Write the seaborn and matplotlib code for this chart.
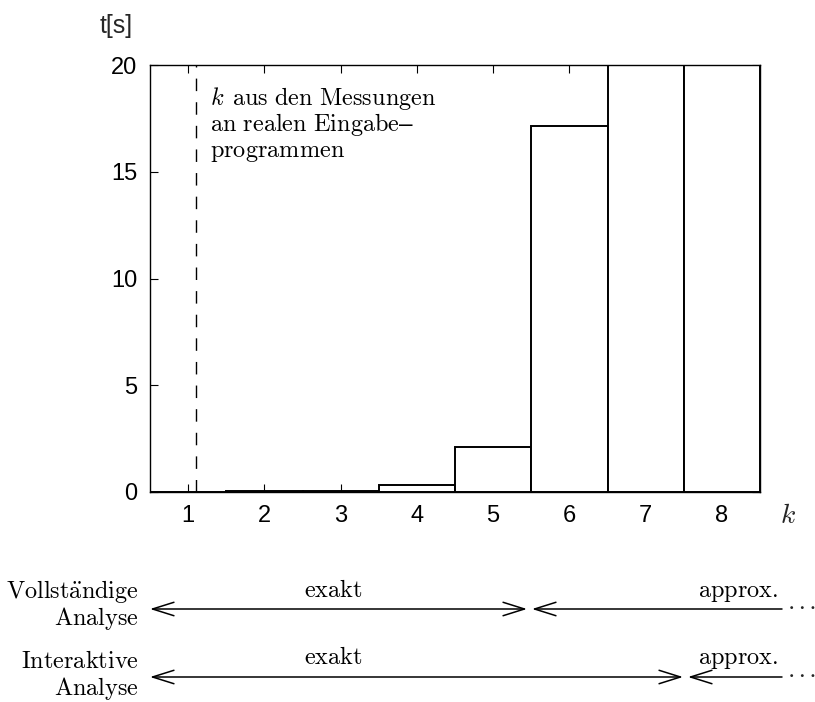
import matplotlib
matplotlib.use("Agg")
import matplotlib.pyplot as plt
from matplotlib.patches import FancyArrowPatch
import seaborn as sns
import pandas as pd

# Laufzeit t[s] in Abhaengigkeit von k
k_values = [1, 2, 3, 4, 5, 6, 7, 8]
t_values = [0.01, 0.03, 0.07, 0.33, 2.1, 17.15, 20.0, 20.0]
y_ticks = [0, 5, 10, 15, 20]
k_measured = 1.1

sns.set_theme(style="ticks")
plt.rcParams["font.family"] = ["Liberation Sans", "DejaVu Sans"]
plt.rcParams["mathtext.fontset"] = "cm"

fig = plt.figure(figsize=(8.15, 7.02), dpi=100)
ax = fig.add_axes([150 / 815, 1 - 492 / 702, 610 / 815, 427 / 702])

df = pd.DataFrame({"k": k_values, "t": t_values})
sns.barplot(data=df, x="k", y="t", native_scale=True, width=1.0,
            color="white", edgecolor="black", linewidth=1.4,
            saturation=1, ax=ax, zorder=2)

ax.set_xlim(0.5, 8.5)
ax.set_ylim(0, 20)
ax.set_xticks(k_values)
ax.set_yticks(y_ticks)
ax.tick_params(direction="in", top=True, right=True, length=6, width=0.8,
               labelsize=17, pad=9, colors="black")
for s in ax.spines.values():
    s.set_linewidth(1.0)
    s.set_color("black")
ax.set_xlabel("")
ax.set_ylabel("")

ax.axvline(k_measured, color="black", linestyle=(0, (9, 8)), linewidth=1.0, zorder=1)


def fx(px):
    return px / 815


def fy(py):
    return 1 - py / 702


serif = dict(fontsize=17.5, color="black")

# Hinweis zur gemessenen Grenze
fig.text(fx(210), fy(105), r"$k\;\,\mathrm{aus\ den\ Messungen}$", va="baseline", ha="left", **serif)
fig.text(fx(210), fy(131), r"$\mathrm{an\ realen\ Eingabe}$–", va="baseline", ha="left", **serif)
fig.text(fx(210), fy(157), r"$\mathrm{programmen}$", va="baseline", ha="left", **serif)

fig.text(fx(100), fy(26), "t[s]", fontsize=18, va="center", ha="left")
fig.text(fx(788), fy(516), r"$k$", fontsize=20, va="center", ha="center")

# Bereiche exakter und approximativer Analyse
both_style = "<->,head_length=0.7,head_width=0.22"
left_style = "<-,head_length=0.7,head_width=0.22"

rows = [
    # name, baseline name, baseline "Analyse", arrow y, split x, baseline labels
    (r"$\mathrm{Vollst\ddot{a}ndige}$", 598, 625, 609, 527, 597),
    (r"$\mathrm{Interaktive}$", 668, 695, 677, 683, 664),
]
for label, ly1, ly2, ay, split, ty in rows:
    fig.text(fx(139), fy(ly1), label, ha="right", va="baseline", **serif)
    fig.text(fx(139), fy(ly2), r"$\mathrm{Analyse}$", ha="right", va="baseline", **serif)
    fig.add_artist(FancyArrowPatch(
        (fx(150), fy(ay)), (fx(split), fy(ay)), transform=fig.transFigure,
        arrowstyle=both_style, mutation_scale=22, color="black", lw=1.1,
        shrinkA=0, shrinkB=0))
    fig.add_artist(FancyArrowPatch(
        (fx(split + 5), fy(ay)), (fx(782), fy(ay)), transform=fig.transFigure,
        arrowstyle=left_style, mutation_scale=22, color="black", lw=1.1,
        shrinkA=0, shrinkB=0))
    fig.text(fx(789), fy(ay), "\u00b7 \u00b7 \u00b7", ha="left", va="center",
             fontsize=11, fontweight="bold", family="DejaVu Serif")
    fig.text(fx(333), fy(ty), r"$\mathrm{exakt}$", ha="center", va="baseline", **serif)
    fig.text(fx(778), fy(ty), r"$\mathrm{approx.}$", ha="right", va="baseline", **serif)

fig.savefig("out.png", dpi=100)
